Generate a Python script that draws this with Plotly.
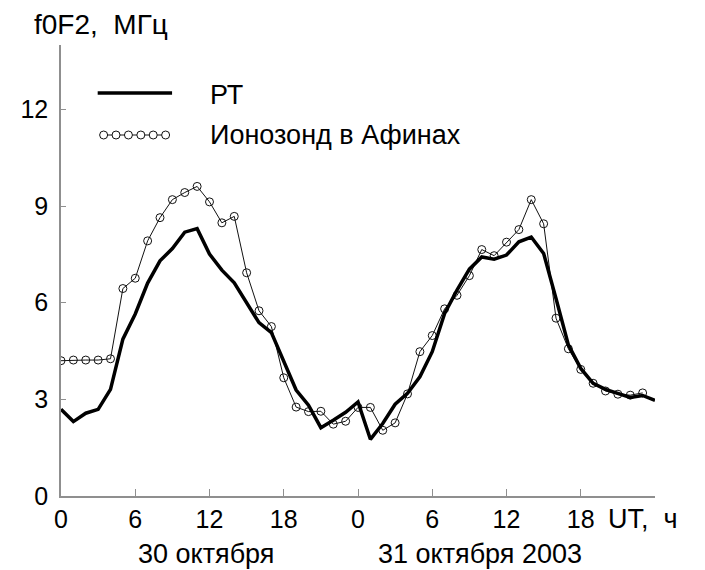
import plotly.graph_objects as go

# ---- data ----
hours_rt = list(range(0, 49))
rt_values = [2.69, 2.31, 2.57, 2.69, 3.31, 4.87, 5.65, 6.61, 7.30, 7.68,
             8.19, 8.30, 7.51, 7.01, 6.62, 6.01, 5.38, 5.07, 4.20, 3.29,
             2.82, 2.12, 2.35, 2.60, 2.92, 1.76, 2.25, 2.85, 3.19, 3.70,
             4.48, 5.67, 6.39, 7.04, 7.42, 7.35, 7.48, 7.89, 8.04, 7.53,
             6.13, 4.69, 3.96, 3.50, 3.31, 3.19, 3.06, 3.12, 2.97]

hours_iono = list(range(0, 48))
iono_values = [4.20, 4.22, 4.22, 4.22, 4.26, 6.44, 6.76, 7.92, 8.64, 9.20,
               9.42, 9.61, 9.13, 8.48, 8.68, 6.93, 5.75, 5.26, 3.67, 2.76,
               2.62, 2.63, 2.23, 2.32, 2.75, 2.75, 2.04, 2.27, 3.17, 4.48,
               4.98, 5.81, 6.23, 6.84, 7.65, 7.46, 7.88, 8.27, 9.20, 8.45,
               5.52, 4.57, 3.93, 3.50, 3.26, 3.16, 3.13, 3.20]

x_tickvals = [0, 6, 12, 18, 24, 30, 36, 42]
x_ticktext = ["0", "6", "12", "18", "0", "6", "12", "18"]
y_tickvals = [0, 3, 6, 9, 12]

name_rt = "РТ"
name_iono = "Ионозонд в Афинах"
y_title = "f0F2,&nbsp; МГц"
x_title = "UT,&nbsp; ч"
day1 = "30 октября"
day2 = "31 октября 2003"

# ---- layout geometry (reference pixels; page body has an 8px margin) ----
OFF = 8
W, H = 705, 570
L, R, T, B = 56, 50, 45, 74          # plot area in reference pixel coords
PW, PH = W - L - R, H - T - B

def px(x):
    return (x - L) / PW

def py(y):
    return (H - B - y) / PH

FONT = "Liberation Sans, Arial, sans-serif"
AXC = "#8f8f8f"

fig = go.Figure()

fig.add_trace(go.Scatter(
    x=hours_iono, y=iono_values, mode="lines+markers",
    line=dict(color="#111111", width=1),
    marker=dict(symbol="circle-open", size=8, color="#111111", line=dict(width=1)),
    showlegend=False, name=name_iono))

fig.add_trace(go.Scatter(
    x=hours_rt, y=rt_values, mode="lines",
    line=dict(color="black", width=3.5),
    showlegend=False, name=name_rt))

# legend samples on an overlay paper-like axis
leg_mk_x = [px(v) for v in (99, 111.5, 124, 136.5, 149, 161.5)]
fig.add_trace(go.Scatter(x=[px(93), px(168)], y=[py(93), py(93)], mode="lines",
                         line=dict(color="black", width=3.5),
                         xaxis="x2", yaxis="y2", showlegend=False, hoverinfo="skip"))
fig.add_trace(go.Scatter(x=[px(96), px(165)], y=[py(135)] * 2, mode="lines",
                         line=dict(color="#111111", width=1),
                         xaxis="x2", yaxis="y2", showlegend=False, hoverinfo="skip"))
fig.add_trace(go.Scatter(x=leg_mk_x, y=[py(135)] * 6, mode="markers",
                         marker=dict(symbol="circle", size=8, color="white",
                                     line=dict(width=1, color="#111111")),
                         xaxis="x2", yaxis="y2", showlegend=False, hoverinfo="skip"))

fig.update_layout(
    width=W - OFF, height=H - OFF, autosize=False,
    margin=dict(l=L - OFF, r=R, t=T - OFF, b=B, pad=0),
    paper_bgcolor="white", plot_bgcolor="white",
    font=dict(family=FONT, size=25, color="black"),
    xaxis=dict(range=[0, 48], tickvals=x_tickvals, ticktext=x_ticktext,
               showgrid=False, zeroline=False, showline=True, linecolor=AXC, linewidth=1.5,
               ticks="inside", ticklen=7, tickcolor=AXC, tickwidth=1,
               ticklabelstandoff=0, tickfont=dict(family=FONT, size=25, color="black")),
    yaxis=dict(range=[0, 14], tickvals=y_tickvals,
               showgrid=False, zeroline=False, showline=True, linecolor=AXC, linewidth=1.5,
               ticks="inside", ticklen=5, tickcolor=AXC, tickwidth=1,
               ticklabelstandoff=6, tickfont=dict(family=FONT, size=25, color="black")),
    xaxis2=dict(range=[0, 1], overlaying="x", visible=False, fixedrange=True),
    yaxis2=dict(range=[0, 1], overlaying="y", visible=False, fixedrange=True),
    showlegend=False,
)

ann = [
    dict(text=y_title, x=px(27), y=py(25), xanchor="left", size=28),
    dict(text=name_rt, x=px(204), y=py(95), xanchor="left", size=27),
    dict(text=name_iono, x=px(204), y=py(135), xanchor="left", size=27),
    dict(text=x_title, x=px(606), y=py(519), xanchor="left", size=27),
    dict(text=day1, x=px(202), y=py(554), xanchor="center", size=27),
    dict(text=day2, x=px(479), y=py(554), xanchor="center", size=27),
]
for a in ann:
    fig.add_annotation(text=a["text"], x=a["x"], y=a["y"], xref="paper", yref="paper",
                       xanchor=a["xanchor"], yanchor="middle", showarrow=False,
                       font=dict(family=FONT, size=a["size"], color="black"))

fig.write_html("out.html")
